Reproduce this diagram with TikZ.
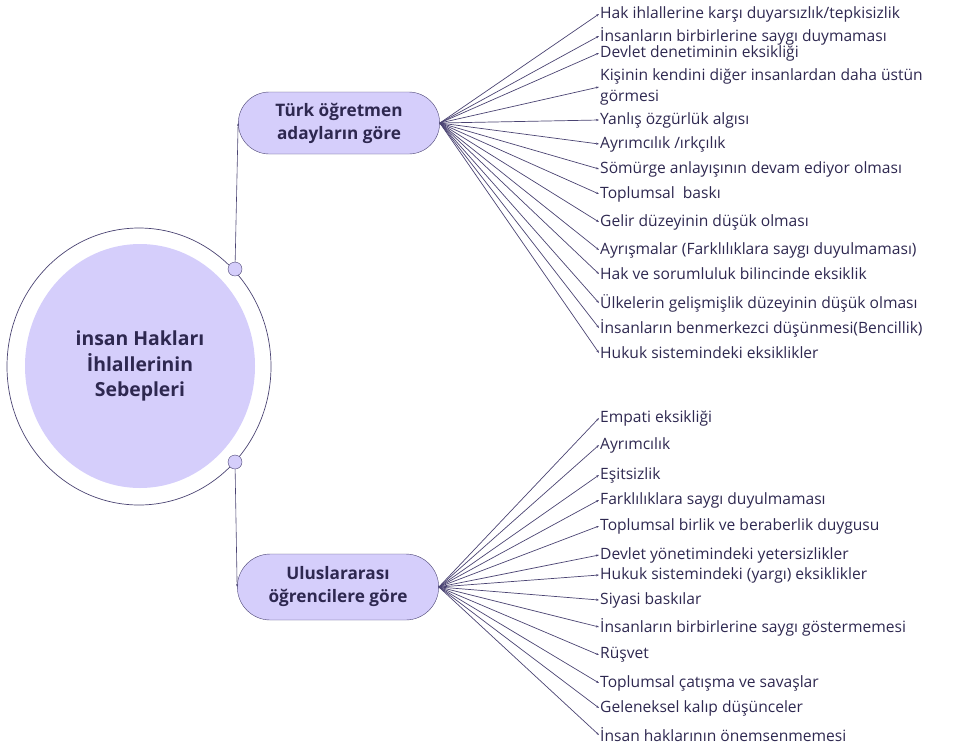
\documentclass[tikz,border=0pt]{standalone}
\usepackage{fontspec}
\setmainfont{Open Sans}
\usetikzlibrary{arrows.meta,positioning,shapes.misc,shapes.geometric}
\definecolor{ink}{HTML}{2E2850}
\definecolor{lilac}{HTML}{D5CEFB}
\definecolor{wire}{HTML}{4A4372}
\tikzset{
    cause/.style={anchor=west, inner sep=1pt, text=ink, font=\fontsize{15.6}{21}\selectfont, align=left},
    group/.style={draw=wire, fill=lilac, rounded rectangle, minimum width=208pt, minimum height=62pt, text=ink, font=\bfseries\fontsize{17.2}{23}\selectfont, align=center},
    fan/.style={-{Stealth[length=3pt, width=2.2pt]}, wire, line width=0.7pt},
    link/.style={-{Stealth[length=3pt, width=2pt]}, wire, line width=0.6pt},
    knob/.style={draw=wire, fill=lilac, circle, minimum size=14pt, inner sep=0pt}
}
\begin{document}
\begin{tikzpicture}[x=1pt, y=-1pt]
    \useasboundingbox (0,0) rectangle (953,748);
    \node[ellipse, draw=wire, line width=0.7pt, minimum width=264pt, minimum height=277pt] (ring) at (139,366.5) {};
    \node[ellipse, fill=lilac, minimum width=230pt, minimum height=244pt, text=ink, align=center,
          font=\bfseries\fontsize{19.4}{25.5}\selectfont] (core) at (140,366) {insan Hakları\\İhlallerinin\\Sebepleri};
    \node[knob] (k1) at (235,269) {};
    \node[knob] (k2) at (235,462) {};

    \node[group] (tr) at (339,123) {Türk öğretmen\\adayların göre};
    \node[group, minimum height=66pt] (intl) at (338,587) {Uluslararası\\öğrencilere göre};

    \draw[link] (k1) -- (tr.west);
    \draw[link] (k2) -- (intl.west);

    % Turkish teacher candidates
    \node[cause] (a1) at (599,14) {Hak ihlallerine karşı duyarsızlık/tepkisizlik};
    \node[cause] (a2) at (599,36) {İnsanların birbirlerine saygı duymaması};
    \node[cause] (a3) at (599,53) {Devlet denetiminin eksikliği};
    \node[cause] (a4) at (599,87) {Kişinin kendini diğer insanlardan daha üstün\\görmesi};
    \node[cause] (a5) at (599,120) {Yanlış özgürlük algısı};
    \node[cause] (a6) at (599,144) {Ayrımcılık /ırkçılık};
    \node[cause] (a7) at (599,169) {Sömürge anlayışının devam ediyor olması};
    \node[cause] (a8) at (599,194) {Toplumsal\ \ baskı};
    \node[cause] (a9) at (599,222) {Gelir düzeyinin düşük olması};
    \node[cause] (a10) at (599,250) {Ayrışmalar (Farklılıklara saygı duyulmaması)};
    \node[cause] (a11) at (599,274) {Hak ve sorumluluk bilincinde eksiklik};
    \node[cause] (a12) at (599,303) {Ülkelerin gelişmişlik düzeyinin düşük olması};
    \node[cause] (a13) at (599,328) {İnsanların benmerkezci düşünmesi(Bencillik)};
    \node[cause] (a14) at (599,353) {Hukuk sistemindeki eksiklikler};

    % international students
    \node[cause] (b1) at (599,418) {Empati eksikliği};
    \node[cause] (b2) at (599,445) {Ayrımcılık};
    \node[cause] (b3) at (599,475) {Eşitsizlik};
    \node[cause] (b4) at (599,500) {Farklılıklara saygı duyulmaması};
    \node[cause] (b5) at (599,526) {Toplumsal birlik ve beraberlik duygusu};
    \node[cause] (b6) at (599,555) {Devlet yönetimindeki yetersizlikler};
    \node[cause] (b7) at (599,575) {Hukuk sistemindeki (yargı) eksiklikler};
    \node[cause] (b8) at (599,600) {Siyasi baskılar};
    \node[cause] (b9) at (599,627) {İnsanların birbirlerine saygı göstermemesi};
    \node[cause] (b10) at (599,655) {Rüşvet};
    \node[cause] (b11) at (599,683) {Toplumsal çatışma ve savaşlar};
    \node[cause] (b12) at (599,708) {Geleneksel kalıp düşünceler};
    \node[cause] (b13) at (599,735) {İnsan haklarının önemsenmemesi};

    \foreach \i in {1,...,14}
        \draw[fan] (tr.east) -- (a\i.west);
    \foreach \i in {1,...,13}
        \draw[fan] (intl.east) -- (b\i.west);
\end{tikzpicture}
\end{document}
